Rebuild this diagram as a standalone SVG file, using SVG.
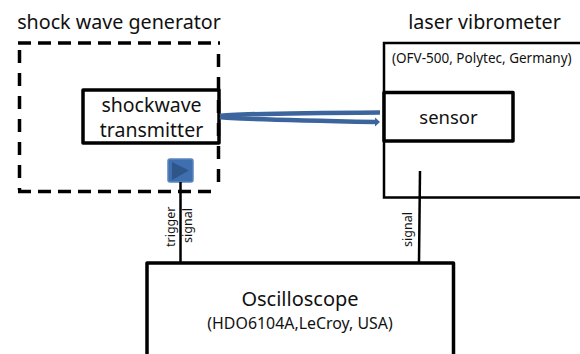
<svg xmlns="http://www.w3.org/2000/svg" width="580" height="354" viewBox="0 0 580 354">
<style>
text{font-family:"Noto Sans","Open Sans","DejaVu Sans",sans-serif;fill:#111}
.box{fill:#fff;stroke:#000;stroke-width:3.5;stroke-linejoin:round}
.thin{fill:none;stroke:#000;stroke-width:2.5}
.wire{fill:none;stroke:#000;stroke-width:2.5}
.beam{fill:none;stroke:#3b659c;stroke-width:4.500}
.dash{fill:none;stroke:#000;stroke-width:3.500}
.m{text-anchor:middle}
</style>
<defs><marker id="a" markerUnits="userSpaceOnUse" markerWidth="6" markerHeight="10" refX="1" refY="5" orient="auto"><path d="M0 0.500L5 5L0 9.500Z" fill="#3b659c"/></marker></defs>
<rect width="580" height="354" fill="#fff"/>
<g id="generator">
<path class="dash" stroke-dasharray="13 7" d="M18 43H220"/>
<path class="dash" stroke-dasharray="13 7" d="M18 191.500H218"/>
<path class="dash" stroke-dasharray="13 10" d="M19.500 50V190"/>
<text x="119" y="29" class="m" font-size="19.700">shock wave generator</text>
</g>
<g id="vibrometer">
<path class="thin" d="M580 43H384V197.500H580"/>
<text x="484.500" y="29" class="m" font-size="19.700">laser vibrometer</text>
<text x="392" y="63" font-size="13.500">(OFV-500, Polytec, Germany)</text>
</g>
<g id="transmitter">
<rect class="box" x="83" y="90" width="136" height="53"/>
<path class="dash" stroke-dasharray="13 10" d="M218.500 54V183"/>
<text x="151.500" y="112" class="m" font-size="19.500">shockwave</text>
<text x="151.500" y="137" class="m" font-size="19.500">transmitter</text>
</g>
<g id="sensor">
<rect class="box" x="384" y="92.500" width="129" height="48.500"/>
<text x="448.500" y="124" class="m" font-size="18.500">sensor</text>
</g>
<g id="trigger">
<rect x="168" y="159" width="25" height="23" rx="2" fill="#3f6fae" stroke="#5c86bd" stroke-width="1.500"/>
<path d="M172 162L189 170.500L172 180Z" fill="#2f5688"/>
</g>
<g id="connectors">
<path class="beam" d="M220 116Q230 113.500 380 112.500"/>
<path class="beam" d="M220 117Q230 119 376 122" marker-end="url(#a)"/>
<path class="wire" d="M180.500 182V262"/>
<path class="wire" d="M420 171L419 262"/>
</g>
<g id="oscilloscope">
<path class="box" d="M147 354V263H453.500V354"/>
<text x="300" y="306" class="m" font-size="20">Oscilloscope</text>
<text x="300" y="329" class="m" font-size="15.900">(HDO6104A,LeCroy, USA)</text>
</g>
<g id="labels">
<text transform="translate(175 247) rotate(-90)" font-size="12.500">trigger</text>
<text transform="translate(192 243) rotate(-90)" font-size="12.500">signal</text>
<text transform="translate(412 247) rotate(-90)" font-size="12.500">signal</text>
</g>
</svg>
